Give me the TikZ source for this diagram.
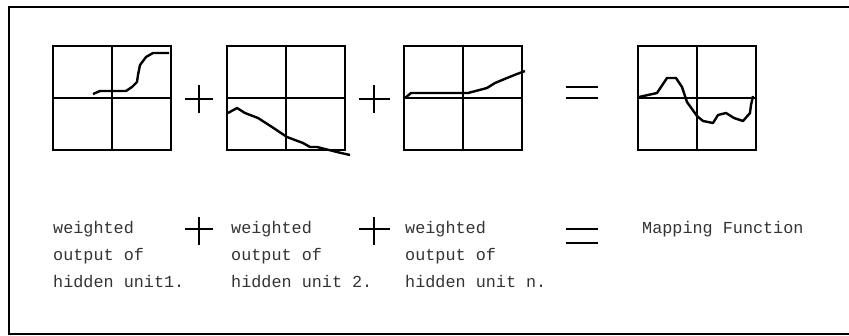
\documentclass[tikz,border=0pt]{standalone}
\usepackage{fontspec}
\setmonofont{Liberation Mono}
\begin{document}
\begin{tikzpicture}[x=1pt, y=-1pt,
    plot/.style={rectangle, draw, line width=2.4pt, minimum width=118pt, minimum height=104pt, inner sep=0pt},
    curve/.style={line width=2.4pt, line join=round},
    sign/.style={line width=2.4pt},
    label/.style={anchor=base west, inner sep=0pt, align=left, font=\ttfamily\fontsize{16.8}{27}\selectfont, text=black!80}]
    \useasboundingbox (0,0) rectangle (849,335);
    \draw[line width=1.3pt] (849,7) -- (9,7) -- (9,334) -- (849,334);

    % the four plots
    \node[plot] (g1) at (112,98) {};
    \node[plot] (g2) at (286,98) {};
    \node[plot] (g3) at (463,98) {};
    \node[plot] (g4) at (697,98) {};
    \foreach \g in {g1,g2,g3,g4} {
        \draw[line width=2.4pt] (\g.north) -- (\g.south);
        \draw[line width=2.4pt] (\g.west) -- (\g.east);
    }

    \draw[curve] (93,94) -- (100,91) -- (126,91) -- (132,87) -- (137,82) -- (138,75) -- (140,65) -- (146,57) -- (153,53) -- (169,53);
    \draw[curve] (228,113) -- (237,108) -- (245,113) -- (258,118) -- (272,127) -- (287,137) -- (303,143) -- (310,147) -- (317,147) -- (337,152) -- (350,155);
    \draw[curve] (405,98) -- (411,93) -- (468,93) -- (487,88) -- (495,83) -- (507,78) -- (517,74) -- (525,71);
    \draw[curve] (639,97) -- (657,93) -- (667,78) -- (676,78) -- (682,87) -- (687,102) -- (697,116) -- (703,121) -- (713,123) -- (718,115) -- (726,113) -- (734,118) -- (743,121) -- (750,113) -- (751,105) -- (753,96);

    % signs between the plots
    \draw[sign] (185,99) -- (213,99) (199,85) -- (199,113);
    \draw[sign] (359,99) -- (390,99) (374,85) -- (374,113);
    \draw[sign] (566,87) -- (598,87) (566,98) -- (598,98);

    % captions (base = last line)
    \node[label] (t1) at (53,287) {weighted\\output of\\hidden unit1.};
    \node[label] (t2) at (231,287) {weighted\\output of\\hidden unit 2.};
    \node[label] (t3) at (405,287) {weighted\\output of\\hidden unit n.};
    \node[label] (t4) at (642,233) {Mapping Function};

    \draw[sign] (185,229) -- (213,229) (199,217) -- (199,245);
    \draw[sign] (359,229) -- (390,229) (374,217) -- (374,245);
    \draw[sign] (566,229) -- (598,229) (566,243) -- (598,243);
\end{tikzpicture}
\end{document}
